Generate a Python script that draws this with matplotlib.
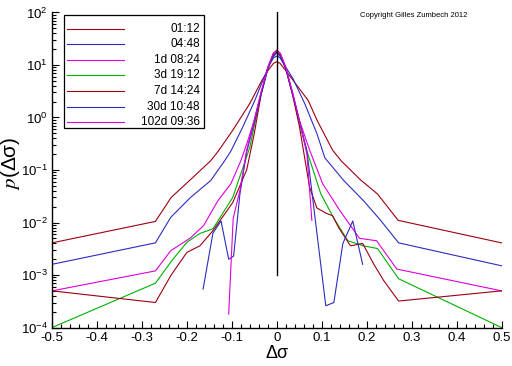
import numpy as np
import matplotlib
matplotlib.use("Agg")
import matplotlib.pyplot as plt
from matplotlib.ticker import MultipleLocator, LogLocator, NullFormatter
from matplotlib.patches import Rectangle
from matplotlib.lines import Line2D

plt.rcParams['font.family'] = ['Liberation Sans', 'DejaVu Sans']
plt.rcParams['mathtext.fontset'] = 'stix'

# data (x = change of volatility, y = density)
x_0112 = [-0.5, -0.27, -0.235, -0.195, -0.147, -0.13, -0.098, -0.06, -0.033, -0.018, -0.007, 0.0,
          0.007, 0.018, 0.037, 0.07, 0.09, 0.124, 0.143, 0.187, 0.224, 0.27, 0.5]
p_0112 = [0.0041, 0.0105, 0.03, 0.062, 0.15, 0.23, 0.57, 1.85, 5.1, 8.2, 10.8, 11.5,
          10.8, 8.2, 5.0, 2.1, 0.87, 0.24, 0.15, 0.064, 0.035, 0.011, 0.0041]

x_0448 = [-0.5, -0.27, -0.236, -0.192, -0.147, -0.116, -0.102, -0.076, -0.049, -0.031, -0.017, -0.007, 0.0,
          0.007, 0.017, 0.036, 0.062, 0.089, 0.107, 0.149, 0.193, 0.231, 0.271, 0.5]
p_0448 = [0.0016, 0.0041, 0.0125, 0.03, 0.063, 0.15, 0.23, 0.65, 2.1, 5.1, 10.0, 13.8, 14.8,
          13.8, 10.0, 5.5, 1.85, 0.5, 0.17, 0.063, 0.026, 0.011, 0.0041, 0.0015]

x_1d = [-0.5, -0.27, -0.236, -0.192, -0.163, -0.131, -0.102, -0.08, -0.065, -0.05, -0.035, -0.02, -0.008, 0.0,
        0.008, 0.02, 0.035, 0.05, 0.073, 0.102, 0.14, 0.184, 0.222, 0.267, 0.5]
p_1d = [0.0005, 0.0012, 0.0029, 0.0051, 0.0087, 0.026, 0.055, 0.15, 0.35, 0.9, 3.0, 9.0, 16.5, 19.0,
        16.5, 9.0, 3.0, 0.9, 0.24, 0.055, 0.017, 0.005, 0.0045, 0.0013, 0.0005]

x_3d = [-0.5, -0.27, -0.231, -0.2, -0.171, -0.142, -0.098, -0.06, -0.05, -0.035, -0.02, -0.008, 0.0,
        0.008, 0.02, 0.035, 0.05, 0.067, 0.098, 0.127, 0.158, 0.193, 0.224, 0.271, 0.5]
p_3d = [0.0001, 0.0007, 0.002, 0.0042, 0.0062, 0.0076, 0.03, 0.27, 0.7, 2.8, 8.5, 15.5, 18.0,
        15.5, 8.5, 2.8, 0.8, 0.23, 0.035, 0.012, 0.0045, 0.0036, 0.0032, 0.00085, 0.0001]

x_7d = [-0.5, -0.27, -0.235, -0.2, -0.171, -0.142, -0.098, -0.067, -0.05, -0.035, -0.02, -0.008, 0.0,
        0.008, 0.02, 0.035, 0.05, 0.073, 0.089, 0.11, 0.124, 0.138, 0.164, 0.191, 0.216, 0.238, 0.271, 0.5]
p_7d = [0.0005, 0.0003, 0.001, 0.0027, 0.0036, 0.007, 0.024, 0.1, 0.5, 2.7, 8.5, 15.0, 17.5,
        15.0, 8.5, 2.7, 0.7, 0.047, 0.019, 0.015, 0.0135, 0.0079, 0.0036, 0.004, 0.0016, 0.00078, 0.00032, 0.0005]

x_30d = [-0.164, -0.142, -0.124, -0.107, -0.096, -0.082, -0.067, -0.05, -0.035, -0.02, -0.008, 0.0,
         0.008, 0.02, 0.035, 0.05, 0.067, 0.109, 0.127, 0.147, 0.169, 0.191]
p_30d = [0.00054, 0.0063, 0.0107, 0.002, 0.0023, 0.035, 0.22, 0.8, 2.7, 8.5, 14.5, 17.0,
         14.5, 8.5, 2.8, 0.9, 0.23, 0.00026, 0.0003, 0.004, 0.0107, 0.0016]

x_102d = [-0.107, -0.097, -0.082, -0.067, -0.05, -0.035, -0.02, -0.008, 0.0,
          0.008, 0.02, 0.035, 0.05, 0.067, 0.078]
p_102d = [0.00018, 0.012, 0.041, 0.24, 0.9, 3.0, 9.0, 16.5, 19.2,
          16.5, 9.0, 3.0, 0.9, 0.2, 0.011]

labels = ['01:12', '04:48', '1d 08:24', '3d 19:12', '7d 14:24', '30d 10:48', '102d 09:36']
colors = ['#9c0010', '#2c2cc0', '#dc00dc', '#00b000', '#9c0010', '#2c2cc0', '#dc00dc']
series = [(x_0112, p_0112), (x_0448, p_0448), (x_1d, p_1d), (x_3d, p_3d),
          (x_7d, p_7d), (x_30d, p_30d), (x_102d, p_102d)]

fig = plt.figure(figsize=(5.12, 3.66), dpi=100)
ax = fig.add_axes([0.1016, 0.105, 0.878, 0.861])

for (xs, ps), c in zip(series, colors):
    ax.plot(xs, ps, color=c, lw=0.8)

ax.plot([0, 0], [1e-3, 1e2], color='black', lw=1.0)

ax.set_yscale('log')
ax.set_xlim(-0.5, 0.5)
ax.set_ylim(1e-4, 1e2)
ax.xaxis.set_minor_locator(MultipleLocator(0.02))
ax.yaxis.set_major_locator(LogLocator(base=10, numticks=10))
ax.yaxis.set_minor_locator(LogLocator(base=10, subs=np.arange(2, 10), numticks=10))
ax.yaxis.set_minor_formatter(NullFormatter())
ax.set_xticks(np.arange(-0.5, 0.51, 0.1))
ax.set_xticklabels(['-0.5', '-0.4', '-0.3', '-0.2', '-0.1', '0', '0.1', '0.2', '0.3', '0.4', '0.5'])

for s in ['top', 'right']:
    ax.spines[s].set_visible(False)
for s in ['left', 'bottom']:
    ax.spines[s].set_linewidth(1.0)
ax.tick_params(which='major', direction='in', length=5, width=0.8, labelsize=9.5, pad=3)
ax.tick_params(which='minor', direction='in', length=3, width=0.8)

ax.set_xlabel('Δσ', fontsize=13, labelpad=1)
ax.set_ylabel('$p$(Δσ)', fontsize=15)
ax.yaxis.set_label_coords(-0.066, 0.52)

ax.text(0.684, 0.989, 'Copyright Gilles Zumbech 2012', transform=ax.transAxes,
        fontsize=5.5, va='center', ha='left')

# legend box drawn by hand: line on the left, label right-aligned
ax.add_patch(Rectangle((0.027, 0.633), 0.311, 0.359, transform=ax.transAxes,
                       facecolor='white', edgecolor='black', lw=0.9, zorder=5))
row_top, row_step = 0.948, 0.0493
for i, (lab, c) in enumerate(zip(labels, colors)):
    yy = row_top - i * row_step
    ax.add_line(Line2D([0.033, 0.16], [yy, yy], transform=ax.transAxes,
                       color=c, lw=0.8, zorder=6))
    ax.text(0.329, yy, lab, transform=ax.transAxes, ha='right', va='center',
            fontsize=8.5, zorder=6)

fig.savefig('out.png', dpi=100, facecolor='white')
